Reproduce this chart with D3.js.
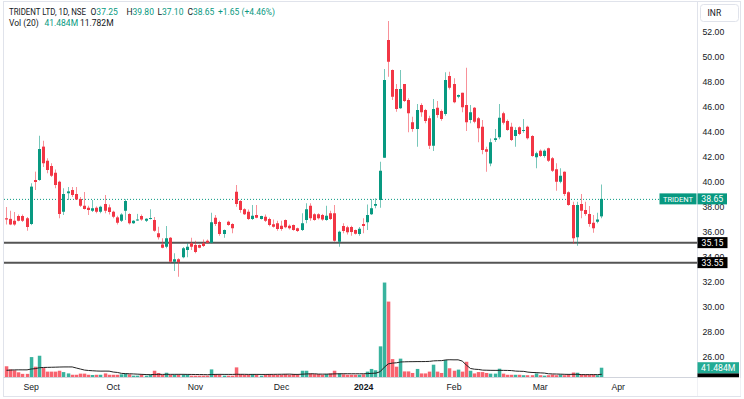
<!DOCTYPE html>
<html lang="en">
<head>
<meta charset="utf-8">
<title>Trident Ltd, 1D, NSE</title>
<script src="https://cdn.jsdelivr.net/npm/d3@7/dist/d3.min.js"></script>
<style>
  body { margin: 0; background: #fff; }
  svg { display: block; font-family: Roboto, "Noto Sans", sans-serif; }
  .axis text { fill: #131722; font-size: 8.7px; }
  .axis .domain { display: none; }
</style>
</head>
<body>
<script>

// daily sessions, late Aug 2023 .. 22 Mar 2024
var open = [37.1, 37.05, 36.9, 37.28, 37.28, 37.1, 36.64, 40.16, 40.16, 42.83,
  41.7, 41.28, 40.74, 40.02, 37.62, 39.1, 39.36, 39.04, 38.64, 38.1,
  37.94, 37.7, 37.94, 37.62, 38.24, 37.97, 37.62, 37.17, 36.9, 37.7,
  37.44, 36.7, 36.95, 37.28, 36.9, 37.08, 36.96, 35.9, 35.0, 34.82,
  35.54, 33.62, 33.82, 33.98, 34.56, 35.1, 34.96, 34.96, 35.1, 35.3,
  35.14, 37.14, 36.8, 35.84, 36.82, 36.64, 39.22, 38.48, 37.82, 37.62,
  37.04, 37.36, 37.04, 37.22, 37.04, 36.62, 36.7, 36.5, 36.96, 36.5,
  36.56, 36.3, 36.16, 36.96, 38.1, 37.42, 37.42, 37.36, 36.96, 37.5,
  37.5, 35.22, 36.48, 36.38, 36.4, 36.16, 35.84, 36.64, 36.78, 37.42,
  38.1, 38.56, 41.94, 51.36, 48.96, 47.44, 45.9, 47.84, 46.56, 44.78,
  44.24, 46.16, 45.76, 45.1, 42.9, 45.94, 45.68, 45.44, 48.48, 47.84,
  46.82, 47.14, 46.16, 44.96, 45.94, 45.1, 44.42, 42.62, 41.48, 43.36,
  43.58, 45.5, 44.88, 44.42, 43.68, 44.38, 44.08, 44.42, 43.68, 41.98,
  42.5, 42.08, 42.7, 41.9, 41.02, 40.02, 40.82, 39.18, 38.16, 35.58,
  38.24, 37.76, 37.44, 36.74, 36.82, 37.25];

var high = [38.0, 37.7, 37.6, 37.4, 37.4, 37.2, 39.9, 40.83, 43.7, 43.3,
  41.9, 41.5, 41.0, 40.1, 39.5, 39.6, 39.6, 39.6, 38.8, 39.2,
  38.1, 38.56, 38.05, 38.1, 38.96, 38.2, 37.7, 37.3, 37.5, 38.62,
  37.5, 36.95, 37.45, 37.4, 37.1, 37.82, 37.2, 36.42, 35.5, 36.48,
  35.6, 34.3, 33.9, 34.8, 35.1, 35.54, 35.3, 35.0, 35.4, 35.4,
  37.54, 37.36, 36.9, 36.2, 36.9, 36.7, 39.76, 38.55, 37.9, 37.8,
  38.16, 38.16, 37.3, 37.4, 37.15, 37.0, 36.9, 36.9, 37.0, 36.6,
  36.6, 36.35, 37.5, 38.3, 38.3, 37.5, 37.5, 37.45, 38.1, 37.7,
  38.16, 36.1, 36.7, 36.5, 36.5, 36.2, 36.4, 37.1, 38.2, 38.64,
  38.7, 41.62, 49.04, 52.88, 49.0, 47.84, 48.96, 47.84, 46.7, 45.22,
  46.24, 46.3, 45.85, 45.3, 46.64, 46.48, 45.8, 48.78, 48.82, 48.3,
  47.0, 47.14, 49.14, 46.16, 46.0, 45.2, 44.96, 42.82, 43.48, 44.24,
  46.24, 45.62, 45.0, 44.74, 44.38, 44.45, 45.04, 44.5, 43.75, 42.42,
  42.6, 42.6, 42.75, 42.0, 41.5, 41.1, 40.85, 39.25, 38.42, 38.42,
  39.04, 38.42, 38.08, 37.36, 37.54, 39.80];

var low = [36.6, 36.55, 36.5, 36.85, 36.8, 36.1, 36.55, 39.36, 40.1, 41.2,
  40.7, 40.4, 39.5, 37.1, 37.36, 38.56, 38.8, 38.56, 38.0, 37.8,
  37.36, 37.6, 37.5, 37.5, 37.5, 37.4, 37.1, 36.6, 36.8, 36.96,
  36.6, 36.65, 36.9, 36.9, 36.8, 37.0, 36.02, 35.4, 34.7, 34.7,
  33.54, 32.88, 32.42, 33.9, 33.98, 34.56, 34.3, 34.7, 34.8, 35.1,
  35.1, 36.48, 35.7, 35.54, 36.5, 35.9, 38.02, 37.54, 37.36, 36.96,
  36.96, 37.1, 37.0, 36.8, 36.46, 36.35, 36.1, 36.1, 36.3, 36.2,
  36.1, 36.0, 36.08, 36.7, 36.9, 36.9, 37.0, 36.9, 36.9, 36.96,
  35.22, 34.82, 35.9, 35.8, 35.7, 35.8, 35.7, 35.9, 36.16, 37.36,
  37.9, 37.94, 41.94, 48.42, 46.56, 45.62, 45.85, 46.4, 43.98, 44.02,
  42.82, 45.22, 44.7, 42.64, 42.48, 45.14, 44.9, 45.3, 47.4, 46.3,
  46.7, 45.58, 44.08, 44.7, 44.7, 43.18, 42.22, 40.82, 41.26, 43.2,
  43.42, 44.6, 44.1, 43.28, 42.82, 43.75, 43.94, 43.4, 42.02, 41.1,
  42.0, 41.95, 41.6, 40.8, 39.3, 39.9, 38.88, 38.1, 35.04, 34.9,
  37.1, 37.3, 36.42, 35.94, 36.7, 37.10];

var close = [37.0, 36.6, 36.6, 36.9, 36.9, 36.4, 39.63, 40.0, 42.64, 41.5,
  40.96, 40.5, 39.76, 37.44, 39.04, 39.25, 38.96, 38.6, 38.1, 37.84,
  37.76, 37.9, 37.62, 38.02, 37.7, 37.6, 37.22, 36.74, 37.4, 38.48,
  36.7, 36.9, 37.0, 37.0, 37.06, 37.12, 36.1, 35.58, 34.74, 35.5,
  33.62, 33.82, 33.6, 34.7, 34.82, 34.82, 34.4, 34.74, 34.88, 35.14,
  36.78, 36.64, 35.84, 36.16, 36.56, 36.3, 38.24, 37.76, 37.42, 37.04,
  37.3, 37.14, 37.28, 36.9, 36.56, 36.42, 36.24, 36.24, 36.38, 36.3,
  36.16, 36.08, 36.7, 37.82, 37.1, 36.96, 37.1, 37.0, 37.3, 37.04,
  35.3, 36.02, 36.08, 35.98, 36.0, 35.86, 36.26, 36.48, 37.36, 37.9,
  38.24, 40.9, 48.16, 49.62, 46.82, 45.84, 47.44, 46.48, 45.5, 44.24,
  45.76, 45.58, 44.88, 42.9, 45.84, 45.36, 45.04, 48.16, 47.54, 46.38,
  46.96, 45.98, 44.78, 45.58, 44.82, 44.3, 42.56, 42.42, 43.18, 43.5,
  45.14, 44.74, 44.16, 43.36, 44.16, 43.84, 44.16, 43.5, 42.08, 42.3,
  42.08, 42.5, 41.7, 40.9, 40.02, 40.5, 39.04, 38.16, 35.5, 38.16,
  37.7, 37.44, 36.64, 36.3, 37.0, 38.65];

// volume, millions of shares
var volume = [48, 34, 30, 21, 14, 14, 89, 46, 95, 40,
  24, 24, 24, 28, 22, 16, 10, 10, 15, 15,
  10, 9, 10, 10, 16, 10, 10, 10, 12, 16,
  12, 6, 6, 10, 6, 9, 28, 18, 10, 19,
  10, 10, 10, 10, 10, 6, 6, 6, 6, 6,
  34, 13, 10, 6, 6, 6, 43, 13, 10, 10,
  13, 10, 6, 10, 13, 10, 10, 10, 13, 10,
  13, 10, 28, 28, 16, 13, 13, 10, 13, 16,
  28, 16, 12, 10, 10, 10, 10, 12, 24, 36,
  30, 137, 422, 337, 80, 46, 82, 25, 25, 18,
  36, 16, 16, 24, 55, 24, 18, 76, 39, 28,
  33, 24, 68, 28, 16, 22, 22, 18, 15, 15,
  37, 15, 10, 10, 10, 10, 8, 8, 8, 16,
  8, 6, 8, 11, 8, 11, 8, 11, 20, 19,
  11, 11, 11, 11, 8, 41.484];

// the 19 sessions before the window, only needed for the 20-day average
var volBefore = [15, 15, 15, 15, 15, 14, 14, 14, 14, 15, 15, 15, 15, 15, 15, 10, 107, 107, 107];

var monthIndex = [6, 26, 46, 67, 87, 109, 130, 149];
var monthLabels = ["Sep", "Oct", "Nov", "Dec", "2024", "Feb", "Mar", "Apr"];
var priceTicks = [26, 28, 30, 32, 34, 36, 38, 40, 42, 44, 46, 48, 50, 52];
var levels = [35.15, 33.55];

var W = 744, H = 399;
var up = "#089981", down = "#f23645", ink = "#131722", frame = "#e0e3eb";
var n = close.length;

var x = d3.scaleLinear().domain([0, n - 1]).range([6, 601.3]);
var y = d3.scaleLinear().domain([26, 52]).range([357, 32]);
var yv = d3.scaleLinear().domain([0, 420]).range([377, 283]);

var allVol = volBefore.concat(volume);
var volMA = volume.map(function(v, i) {
  var k = i + volBefore.length;
  return d3.mean(allVol.slice(k - 19, k + 1));
});

var svg = d3.select("body").append("svg")
  .attr("width", W)
  .attr("height", H);

svg.append("rect").attr("width", W).attr("height", H).attr("fill", "#fff");

var plot = svg.append("g");
function cx(i) { return Math.round(x(i)); }
function isUp(i) { return close[i] >= open[i]; }
var idx = d3.range(n);

// volume
plot.selectAll(".vol").data(idx).enter().append("rect")
  .attr("x", function(i) { return cx(i) - 1.2; })
  .attr("width", 3.5)
  .attr("y", function(i) { return yv(volume[i]); })
  .attr("height", function(i) { return Math.max(1, yv(0) - yv(volume[i])); })
  .attr("fill", function(i) { return isUp(i) ? "#22ab94" : "#f7525f"; })
  .attr("fill-opacity", 0.9);

plot.append("path")
  .datum(idx)
  .attr("fill", "none")
  .attr("stroke", "#222")
  .attr("stroke-width", 1)
  .attr("d", d3.line().x(function(i) { return x(i) + 0.5; }).y(function(i) { return yv(volMA[i]); }));

// support levels
plot.selectAll(".level").data(levels).enter().append("line")
  .attr("x1", 3).attr("x2", 697)
  .attr("y1", function(d) { return y(d); })
  .attr("y2", function(d) { return y(d); })
  .attr("stroke", "#555")
  .attr("stroke-width", 2);

// last price line
plot.append("line")
  .attr("x1", 4).attr("x2", 659)
  .attr("y1", y(close[n - 1]) + 0.5).attr("y2", y(close[n - 1]) + 0.5)
  .attr("stroke", up)
  .attr("stroke-dasharray", "1,2");

// candles
plot.selectAll(".wick").data(idx).enter().append("line")
  .attr("x1", function(i) { return cx(i) + 0.5; })
  .attr("x2", function(i) { return cx(i) + 0.5; })
  .attr("y1", function(i) { return y(high[i]); })
  .attr("y2", function(i) { return y(low[i]); })
  .attr("stroke", function(i) { return isUp(i) ? up : down; })
  .attr("stroke-opacity", 0.55);

plot.selectAll(".body").data(idx).enter().append("rect")
  .attr("x", function(i) { return cx(i) - 1; })
  .attr("width", 3)
  .attr("y", function(i) { return y(Math.max(open[i], close[i])); })
  .attr("height", function(i) { return Math.max(1, Math.abs(y(open[i]) - y(close[i]))); })
  .attr("fill", function(i) { return isUp(i) ? up : down; });

// frame and pane separators
svg.append("rect").attr("x", 3.5).attr("y", 1.5).attr("width", 737).attr("height", 395)
  .attr("fill", "none").attr("stroke", frame);
svg.append("line").attr("x1", 697.5).attr("x2", 697.5).attr("y1", 1.5).attr("y2", 396.5).attr("stroke", frame);
svg.append("line").attr("x1", 3.5).attr("x2", 697.5).attr("y1", 377.5).attr("y2", 377.5).attr("stroke", "#d1d4dc");

// price axis
svg.append("g")
  .attr("class", "axis")
  .attr("transform", "translate(697,0)")
  .call(d3.axisRight(y).tickValues(priceTicks).tickFormat(d3.format(".2f")).tickSize(0).tickPadding(5.5));

// time axis
svg.append("g")
  .attr("class", "axis")
  .attr("transform", "translate(0,378)")
  .call(d3.axisBottom(x).tickValues(monthIndex)
    .tickFormat(function(d, i) { return monthLabels[i]; })
    .tickSize(0).tickPadding(5.5))
  .selectAll("text")
  .attr("font-weight", function(d, i) { return monthLabels[i] === "2024" ? "bold" : null; });

// axis labels
function tag(yc, w, x0, fill, label, fs) {
  svg.append("rect").attr("x", x0).attr("y", yc - 5.5).attr("width", w).attr("height", 11).attr("fill", fill);
  svg.append("text").attr("x", x0 + w / 2).attr("y", yc + 3.2)
    .attr("text-anchor", "middle").attr("fill", "#fff").attr("font-size", fs || 8.7)
    .text(label);
}
levels.forEach(function(d) { tag(y(d), 30, 697.5, "#000", d3.format(".2f")(d)); });
tag(y(close[n - 1]), 37, 659.5, up, "TRIDENT", 7.5);
tag(y(close[n - 1]), 29.5, 697.5, up, d3.format(".2f")(close[n - 1]));
svg.append("rect").attr("x", 697.5).attr("y", yv(volMA[n - 1]) - 1).attr("width", 41.5).attr("height", 4).attr("fill", "#000");
tag(yv(volume[n - 1]), 41.5, 697.5, "#22ab94", d3.format(".3f")(volume[n - 1]) + "M");
svg.append("rect").attr("x", 697.5).attr("y", 378).attr("width", 43).attr("height", 18).attr("fill", "#fff");

// currency button
svg.append("rect").attr("x", 700.5).attr("y", 4.5).attr("width", 38).attr("height", 17).attr("rx", 3)
  .attr("fill", "#fff").attr("stroke", frame);
svg.append("text").attr("x", 707.5).attr("y", 15.5).attr("font-size", 8.5).attr("fill", ink).text("INR");

// legend
var chg = close[n - 1] - close[n - 2];
var head = svg.append("text").attr("y", 14.8).attr("font-size", 8.5).attr("fill", ink);
head.append("tspan").attr("x", 9).attr("textLength", 77).attr("lengthAdjust", "spacingAndGlyphs")
  .text("TRIDENT LTD, 1D, NSE");
[["O", open[n - 1], 90.5], ["H", high[n - 1], 126.5], ["L", low[n - 1], 157.5], ["C", close[n - 1], 187.5]].forEach(function(p) {
  head.append("tspan").attr("x", p[2]).text(p[0]);
  head.append("tspan").attr("fill", up).text(d3.format(".2f")(p[1]));
});
head.append("tspan").attr("x", 218).attr("fill", up)
  .text("+" + d3.format(".2f")(chg) + " (+" + d3.format(".2f")(chg / close[n - 2] * 100) + "%)");

var vol = svg.append("text").attr("y", 26.3).attr("font-size", 8.5).attr("fill", ink);
vol.append("tspan").attr("x", 9).text("Vol (20)");
vol.append("tspan").attr("x", 44.5).attr("fill", up).text(d3.format(".3f")(volume[n - 1]) + "M");
vol.append("tspan").attr("x", 80).text("11.782M");

</script>
</body>
</html>
